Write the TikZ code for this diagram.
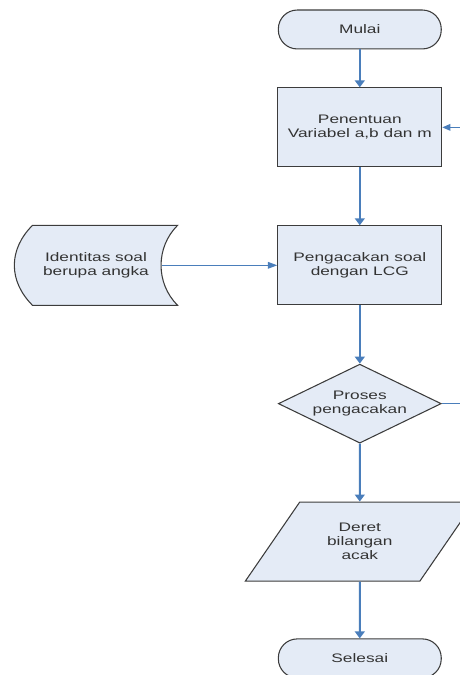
\documentclass[tikz,border=0pt]{standalone}
\usepackage{fontspec}
\setmainfont{Liberation Sans}[FakeStretch=1.4]
\usetikzlibrary{arrows.meta,shapes.geometric,backgrounds}

\definecolor{boxfill}{HTML}{E4EBF6}
\definecolor{boxline}{HTML}{3C3C3C}
\definecolor{flowblue}{HTML}{4A7EBB}
\definecolor{textgray}{HTML}{333333}

\tikzset{
  base/.style={draw=boxline, line width=0.8pt, fill=boxfill, text=textgray,
    align=center, font=\fontsize{9.3}{10.5}\selectfont, inner sep=0pt},
  terminal/.style={base, rectangle, rounded corners=0.5cm,
    minimum width=4.31cm, minimum height=1.03cm},
  process/.style={base, rectangle, minimum width=4.34cm, minimum height=2.09cm},
  decision/.style={base, diamond, aspect=2.06, minimum width=4.31cm, minimum height=2.09cm},
  iobox/.style={base, trapezium, trapezium left angle=51, trapezium right angle=129,
    trapezium stretches=true, minimum width=6.1cm, minimum height=2.09cm},
  storedbox/.style={base, draw=none, fill=none, rectangle,
    minimum width=4.29cm, minimum height=2.09cm},
  flowline/.style={draw=flowblue, line width=1.5pt, -{Triangle[length=5.3pt,width=7.5pt]}},
  thinline/.style={draw=flowblue, line width=0.75pt},
}

\begin{document}
\begin{tikzpicture}
    \useasboundingbox (0,0) rectangle (12.17,-17.86);
    \node[terminal] (mulai) at (9.52,-0.78) {Mulai};
    \node[process] (penentuan) at (9.52,-3.37) {Penentuan\\Variabel a,b dan m};
    \node[process] (pengacakan) at (9.52,-7.02) {Pengacakan soal\\dengan LCG};
    \node[storedbox] (identitas) at (2.54,-7.02) {Identitas soal\\berupa angka};
    \node[decision] (proses) at (9.52,-10.68) {Proses\\pengacakan};
    \node[iobox] (deret) at (9.52,-14.33) {Deret\\bilangan\\acak};
    \node[terminal] (selesai) at (9.52,-17.42) {Selesai};
    \coordinate (balik) at (12.17,-3.37);
    \coordinate (keluar) at (12.17,-10.68);
    % stored data
    \begin{scope}[on background layer]
        \draw[draw=boxline, line width=0.8pt, fill=boxfill]
            ([xshift=0.48cm]identitas.north west) -- (identitas.north east)
            to[out=-135, in=135] (identitas.south east)
            -- ([xshift=0.48cm]identitas.south west)
            to[out=135, in=-135, looseness=1.1] ([xshift=0.48cm]identitas.north west) -- cycle;
    \end{scope}
    \draw[flowline] (mulai) -- (penentuan);
    \draw[flowline] (penentuan) -- (pengacakan);
    \draw[flowline] (pengacakan) -- (proses);
    \draw[flowline] (proses) -- (deret);
    \draw[flowline] (deret) -- (selesai);
    \draw[thinline, -{Triangle[length=6pt,width=5pt]}] (balik) -- (penentuan.east);
    \draw[thinline, -{Triangle[length=7pt,width=5pt]}] ([xshift=-0.4cm]identitas.east) -- (pengacakan.west);
    \draw[thinline] (proses.east) -- (keluar);
\end{tikzpicture}
\end{document}
